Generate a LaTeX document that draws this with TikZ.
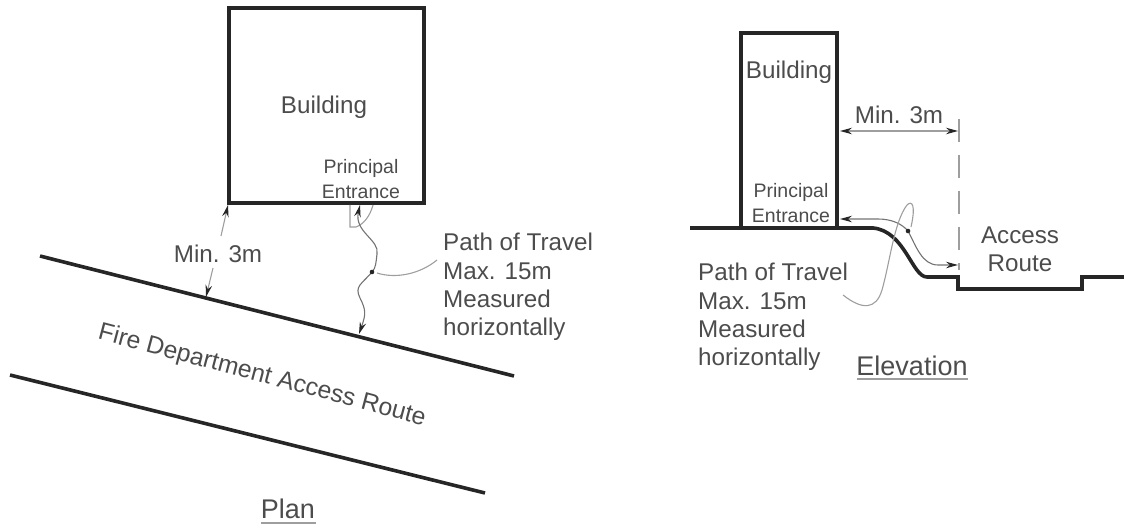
\documentclass[tikz,border=0pt]{standalone}
\usepackage{fontspec}
\setmainfont{Liberation Sans}
\definecolor{inkgray}{gray}{0.3}
\definecolor{leadgray}{gray}{0.62}
\usetikzlibrary{arrows.meta}
\tikzset{
  heavyline/.style={draw=black!85,line width=3.6pt,line join=miter},
  leadline/.style={draw=leadgray,line width=1.1pt},
  pathline/.style={draw=black!55,line width=1.1pt},
  lbl/.style={text=inkgray,font=\fontsize{24.2}{28.4}\selectfont,inner sep=0pt},
  lbltitle/.style={text=inkgray,font=\fontsize{27}{30}\selectfont,inner sep=0pt},
  lblsmall/.style={text=inkgray,font=\fontsize{19.5}{25}\selectfont,inner sep=0pt,align=center},
  tipstart/.style={{Stealth[length=12pt,width=6.5pt,black!85]}-},
  tip/.style={-{Stealth[length=12pt,width=6.5pt,black!85]}},
  tips/.style={{Stealth[length=12pt,width=6.5pt,black!85]}-{Stealth[length=12pt,width=6.5pt,black!85]}}
}
\begin{document}
\begin{tikzpicture}[x=1pt,y=-1pt]
    \useasboundingbox (0,0) rectangle (1124,529);

    % plan
    \coordinate (pbA) at (229,8);
    \coordinate (pbB) at (424,203);
    \draw[heavyline] (pbA) rectangle (pbB);
    \coordinate (roadAa) at (40,256);
    \coordinate (roadAb) at (514,376);
    \coordinate (roadBa) at (10,375);
    \coordinate (roadBb) at (485,493);
    \draw[heavyline] (roadAa) -- (roadAb);
    \draw[heavyline] (roadBa) -- (roadBb);

    \node[lbl] (pbuilding) at (324,107) {Building};
    \node[lblsmall] (pentrance) at (361,179) {Principal\\Entrance};
    \node[lbl] (pmin) at (218,254) {Min. 3m};
    \node[lbl,anchor=north west,align=left] (ppath) at (443,233) {Path of Travel\\Max. 15m\\Measured\\horizontally};
    \node[lbl,rotate=-14.9,font=\fontsize{24.7}{28}\selectfont] (proad) at (262,376) {Fire Department Access Route};
    \node[lbltitle] (pplan) at (288,509) {Plan};
    \coordinate (pplanl) at (261,523);
    \coordinate (pplanr) at (316,523);
    \draw[leadline] (pplanl) -- (pplanr);

    \coordinate (pminA) at (228,205);
    \coordinate (pminAe) at (221,236);
    \coordinate (pminB) at (206,297);
    \coordinate (pminBe) at (213,268);
    \draw[leadline,tip] (pminAe) -- (pminA);
    \draw[leadline,tip] (pminBe) -- (pminB);

    % door swing under the entrance
    \coordinate (pdoorA) at (350,205);
    \coordinate (pdoorB) at (350,227);
    \coordinate (pdoorC) at (373,205);
    \draw[leadline] (pdoorA) -- (pdoorB) -- ++(6,0) .. controls (364,224) and (370,216) .. (pdoorC);

    \coordinate (pwalkA) at (360,205);
    \coordinate (pdot) at (372,272);
    \coordinate (pwalkB) at (359,334);
    \draw[pathline,tipstart] (pwalkA) .. controls (354,232) and (380,240) .. (377,254) .. controls (376,262) and (376,268) .. (pdot);
    \draw[pathline,tip] (pdot) .. controls (362,284) and (354,286) .. (360,298) .. controls (366,310) and (366,314) .. (pwalkB);
    \fill[black!85] (pdot) circle (2.3pt);
    \coordinate (pleader) at (437,260);
    \draw[leadline] (pdot) ++(5,1) .. controls (396,279) and (420,274) .. (pleader);

    % elevation
    \coordinate (ebA) at (741,33);
    \coordinate (ebB) at (837,228);
    \draw[heavyline] (ebA |- ebB) -- (ebA) -- (ebB |- ebA) -- (ebB);
    \coordinate (egA) at (690,228);
    \coordinate (egB) at (873,228);
    \coordinate (egC) at (927,277);
    \coordinate (egD) at (958,277);
    \coordinate (egE) at (958,289);
    \coordinate (egF) at (1082,289);
    \coordinate (egG) at (1082,277);
    \coordinate (egH) at (1124,277);
    \draw[heavyline] (egA) -- (egB) .. controls (905,231) and (912,277) .. (egC) -- (egD) -- (egE) -- (egF) -- (egG) -- (egH);

    \node[lbl] (ebuilding) at (789,72) {Building};
    \node[lblsmall] (eentrance) at (791,203) {Principal\\Entrance};
    \node[lbl] (emin) at (899,115) {Min. 3m};
    \node[lbl,align=center] (eaccess) at (1020,249) {Access\\Route};
    \node[lbl,anchor=north west,align=left] (epath) at (698,263) {Path of Travel\\Max. 15m\\Measured\\horizontally};
    \node[lbltitle] (eelev) at (912,366) {Elevation};
    \coordinate (eelevl) at (857,379);
    \coordinate (eelevr) at (968,379);
    \draw[leadline] (eelevl) -- (eelevr);

    \coordinate (edimA) at (840,131);
    \coordinate (edimB) at (958,131);
    \draw[leadline,tips] (edimA) -- (edimB);
    \coordinate (edashA) at (959,119);
    \coordinate (edashB) at (959,270);
    \draw[draw=leadgray,line width=1.5pt,dash pattern=on 23pt off 13pt] (edashA) -- (edashB);

    \coordinate (ewalkA) at (840,219);
    \coordinate (edot) at (908,231);
    \coordinate (ewalkB) at (958,265);
    \draw[pathline,tipstart] (ewalkA) -- (878,219) .. controls (892,219) and (902,224) .. (edot);
    \draw[pathline,tip] (edot) .. controls (916,246) and (922,265) .. (938,265) -- (ewalkB);
    \fill[black!85] (edot) circle (2.3pt);
    \coordinate (eleader) at (843,295);
    \draw[leadline] (edot) ++(3,-4) .. controls (916,205) and (912,200) .. (907,205) .. controls (894,222) and (890,262) .. (882,290) .. controls (876,310) and (862,310) .. (eleader);
\end{tikzpicture}
\end{document}
